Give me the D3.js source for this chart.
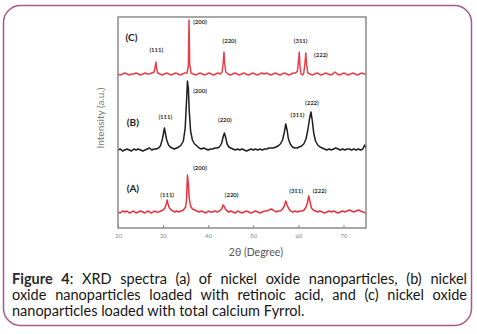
<!DOCTYPE html>
<html>
<head>
<meta charset="utf-8">
<script src="https://d3js.org/d3.v7.min.js"></script>
<style>
body { margin: 0; background: #fff; }
#wrap { position: relative; width: 477px; height: 334px; }
svg { position: absolute; left: 0; top: 0; }
#caption {
    position: absolute;
    left: 12px;
    top: 271px;
    width: 455px;
    font-family: Lato, "Open Sans", sans-serif;
    font-size: 14.5px;
    line-height: 16px;
    color: #161616;
}
#caption div { text-align: justify; text-align-last: justify; white-space: nowrap; }
#caption div.last { text-align-last: left; }
#caption b { color: #2a2a2a; }
</style>
</head>
<body>
<div id="wrap">
<div id="caption">
    <div><b>Figure 4</b>: XRD spectra (a) of nickel oxide nanoparticles, (b) nickel</div>
    <div>oxide nanoparticles loaded with retinoic acid, and (c) nickel oxide</div>
    <div class="last">nanoparticles loaded with total calcium Fyrrol.</div>
</div>
</div>
<script>
// diffraction patterns, 2theta (deg) vs intensity (a.u.)
var seriesA = [[20,16],[20.5,15],[21,17],[21.5,16],[22,17],[22.5,15],[23,16],[23.5,17],[24,15],[24.5,16],[25,17],[25.5,16],[26,15],[26.5,17],[27,16],[27.5,15],[28,17],[28.5,16],[29,16],[29.5,17],[30,18],[30.4,20],[30.7,24],[30.9,28],[31.1,24],[31.4,20],[31.8,18],[32.2,17],[32.6,16],[33,17],[33.5,16],[34,17],[34.5,18],[35,21],[35.2,28],[35.4,53],[35.6,44],[35.8,30],[36.1,22],[36.5,19],[37,18],[37.5,17],[38,16],[38.5,17],[39,16],[39.5,15],[40,17],[40.5,16],[41,16],[41.5,17],[42,16],[42.5,17],[43,19],[43.3,23],[43.5,22],[43.8,19],[44.2,17],[44.6,16],[45,17],[45.5,16],[46,15],[46.5,17],[47,16],[47.5,15],[48,16],[48.5,17],[49,16],[49.5,15],[50,16],[50.5,17],[51,16],[51.5,15],[52,16],[52.5,17],[53,17],[53.5,18],[54,19],[54.4,18],[55,16],[55.5,17],[56,17],[56.5,19],[56.9,22],[57.2,27],[57.5,23],[57.9,19],[58.3,17],[58.8,16],[59.3,17],[59.8,16],[60.3,17],[60.8,17],[61.3,18],[61.7,21],[62.0,25],[62.3,32],[62.6,26],[62.9,20],[63.3,18],[63.8,17],[64.3,16],[64.8,17],[65.3,16],[65.8,15],[66.3,16],[66.8,17],[67.3,16],[67.8,17],[68.3,16],[68.8,15],[69.3,16],[69.8,17],[70.3,16],[70.8,17],[71.3,18],[71.8,17],[72.3,16],[72.8,17],[73.3,18],[73.8,17],[74.3,16],[75,15]];

var seriesB = [[20,16],[20.5,17],[21,15],[21.5,16],[22,17],[22.5,16],[23,15],[23.5,17],[24,16],[24.5,17],[25,16],[25.5,15],[26,16],[26.5,17],[27,18],[27.5,16],[28,17],[28.5,17],[29,18],[29.4,20],[29.8,26],[30.1,33],[30.3,38],[30.5,33],[30.8,26],[31.2,21],[31.6,19],[32,18],[32.5,17],[33,18],[33.5,19],[34,21],[34.5,25],[34.9,38],[35.2,65],[35.4,85],[35.6,78],[35.8,55],[36.1,35],[36.5,26],[37,22],[37.5,20],[38,18],[38.5,17],[39,18],[39.5,17],[40,16],[40.5,17],[41,17],[41.5,18],[42,18],[42.5,19],[43,23],[43.3,29],[43.6,33],[43.9,28],[44.2,22],[44.6,19],[45,18],[45.5,17],[46,16],[46.5,17],[47,16],[47.5,17],[48,16],[48.5,15],[49,16],[49.5,17],[50,16],[50.5,17],[51,16],[51.5,17],[52,16],[52.5,17],[53,17],[53.5,18],[54,18],[54.5,18],[55,19],[55.5,20],[56,22],[56.5,26],[56.9,34],[57.2,42],[57.5,36],[57.8,27],[58.2,22],[58.7,19],[59.2,18],[59.7,18],[60.2,19],[60.7,20],[61.2,22],[61.7,27],[62.1,36],[62.5,48],[62.8,54],[63.1,45],[63.4,33],[63.8,25],[64.3,21],[64.8,19],[65.3,18],[65.8,17],[66.3,16],[66.8,17],[67.3,16],[67.8,17],[68.3,18],[68.8,17],[69.3,16],[69.8,17],[70.3,16],[70.8,17],[71.3,17],[71.8,16],[72.3,17],[72.8,16],[73.3,17],[73.8,16],[74.3,17],[74.7,21],[75,18]];

var seriesC = [[20,16],[20.5,15],[21,16],[21.5,17],[22,16],[22.5,15],[23,16],[23.5,16],[24,17],[24.5,16],[25,15],[25.5,16],[26,17],[26.5,16],[27,16],[27.5,17],[28,18],[28.2,22],[28.4,28],[28.6,21],[28.8,17],[29.3,16],[29.8,15],[30.3,16],[30.8,17],[31.3,16],[31.8,15],[32.3,16],[32.8,17],[33.3,16],[33.8,15],[34.3,16],[34.8,17],[35.3,17],[35.6,24],[35.75,70],[35.9,26],[36.2,17],[36.7,16],[37.2,15],[37.7,16],[38.2,17],[38.7,16],[39.2,15],[39.7,16],[40.2,17],[40.7,16],[41.2,15],[41.7,16],[42.2,17],[42.7,16],[43.1,18],[43.35,28],[43.5,38],[43.65,27],[43.9,18],[44.4,16],[44.9,15],[45.4,16],[45.9,17],[46.4,16],[46.9,15],[47.4,16],[47.9,17],[48.4,16],[48.9,15],[49.4,16],[49.9,17],[50.4,16],[50.9,15],[51.4,16],[51.9,17],[52.4,16],[52.9,17],[53.4,16],[53.9,15],[54.4,16],[54.9,17],[55.4,16],[55.9,15],[56.4,16],[56.9,17],[57.4,16],[57.9,15],[58.4,16],[58.9,17],[59.4,17],[59.8,19],[60.05,30],[60.2,38],[60.35,24],[60.6,16],[60.9,15],[61.2,17],[61.45,26],[61.65,37],[61.85,25],[62.1,17],[62.6,16],[63.1,15],[63.6,16],[64.1,17],[64.6,16],[65.1,15],[65.6,16],[66.1,17],[66.6,16],[67.1,15],[67.6,16],[68.1,18],[68.6,16],[69.1,15],[69.6,16],[70.1,17],[70.6,16],[71.1,15],[71.6,16],[72.1,17],[72.6,16],[73.1,15],[73.6,16],[74.1,17],[74.6,16],[75,16]];

var seriesNames = ["(A)", "(B)", "(C)"];
var seriesOffsets = [0, 62, 138];   // vertical stacking of the patterns
var seriesColors = ["#e6343f", "#1e1e1e", "#e8404a"];

// hkl labels: [2theta, intensity above stack] per pattern
var hkl = ["(111)", "(200)", "(220)", "(311)", "(222)"];
var labelsA = [[30.9, 31], [38.2, 58], [45.2, 31], [59.5, 35], [64.7, 35]];
var labelsB = [[30.5, 47], [38.2, 73], [43.7, 44], [59.8, 49], [63.0, 61]];
var labelsC = [[28.5, 38], [38.2, 66], [44.7, 47], [60.5, 47], [65.0, 33]];

var xTicks = [20, 30, 40, 50, 60, 70];

var width = 477, height = 334;
var svg = d3.select("#wrap").insert("svg", "#caption")
    .attr("width", width)
    .attr("height", height);

// outer rounded box
svg.append("rect")
    .attr("x", 3.5).attr("y", 5.5)
    .attr("width", 468).attr("height", 320)
    .attr("rx", 17).attr("ry", 17)
    .attr("fill", "none")
    .attr("stroke", "#a85a86")
    .attr("stroke-width", 1.5);

var plotLeft = 118, plotRight = 366, plotTop = 17, plotBottom = 228;

var x = d3.scaleLinear().domain([20, 75]).range([plotLeft, plotRight]);
var y = d3.scaleLinear().domain([0, 211]).range([plotBottom, plotTop]);

var line = d3.line()
    .x(function(d) { return x(d[0]); })
    .y(function(d) { return y(d[1]); });

var all = [seriesA, seriesB, seriesC];
var allLabels = [labelsA, labelsB, labelsC];
var nameAt = [[23.3, 36], [23.3, 40], [23.0, 49]];

all.forEach(function(s, i) {
    var off = seriesOffsets[i];
    var pts = s.map(function(p) { return [p[0], p[1] + off]; });
    svg.append("path")
        .datum(pts)
        .attr("d", line)
        .attr("fill", "none")
        .attr("stroke", seriesColors[i])
        .attr("stroke-width", 1.5)
        .attr("stroke-linejoin", "round");

    svg.append("text")
        .attr("x", x(nameAt[i][0]))
        .attr("y", y(nameAt[i][1] + off))
        .attr("text-anchor", "middle")
        .attr("font-family", "Lato, sans-serif")
        .attr("font-weight", "bold")
        .attr("font-size", 10)
        .attr("fill", "#222")
        .text(seriesNames[i]);

    allLabels[i].forEach(function(l, j) {
        svg.append("text")
            .attr("x", x(l[0]))
            .attr("y", y(l[1] + off))
            .attr("text-anchor", "middle")
            .attr("font-family", "Lato, sans-serif")
            .attr("font-weight", "bold")
            .attr("font-size", 6)
            .attr("fill", "#333")
            .text(hkl[j]);
    });
});

// frame
svg.append("rect")
    .attr("x", plotLeft).attr("y", plotTop)
    .attr("width", plotRight - plotLeft).attr("height", plotBottom - plotTop)
    .attr("fill", "none")
    .attr("stroke", "#8a8a8a")
    .attr("stroke-width", 1.5);

var xAxis = d3.axisBottom(x)
    .tickValues(xTicks)
    .tickSizeInner(-3)
    .tickSizeOuter(0)
    .tickPadding(6);

var gx = svg.append("g")
    .attr("transform", "translate(0," + plotBottom + ")")
    .call(xAxis);
gx.select(".domain").remove();
gx.selectAll("line").attr("stroke", "#8a8a8a");
gx.selectAll("text")
    .attr("font-family", "Lato, sans-serif")
    .attr("font-size", 6)
    .attr("fill", "#888");

svg.append("text")
    .attr("x", 256).attr("y", 256)
    .attr("text-anchor", "middle")
    .attr("font-family", "Lato, sans-serif")
    .attr("font-size", 10.5)
    .attr("fill", "#555")
    .text("2θ (Degree)");

svg.append("text")
    .attr("transform", "translate(104,118) rotate(-90)")
    .attr("text-anchor", "middle")
    .attr("font-family", "Lato, sans-serif")
    .attr("font-size", 10)
    .attr("fill", "#777")
    .text("Intensity (a.u.)");
</script>
</body>
</html>
